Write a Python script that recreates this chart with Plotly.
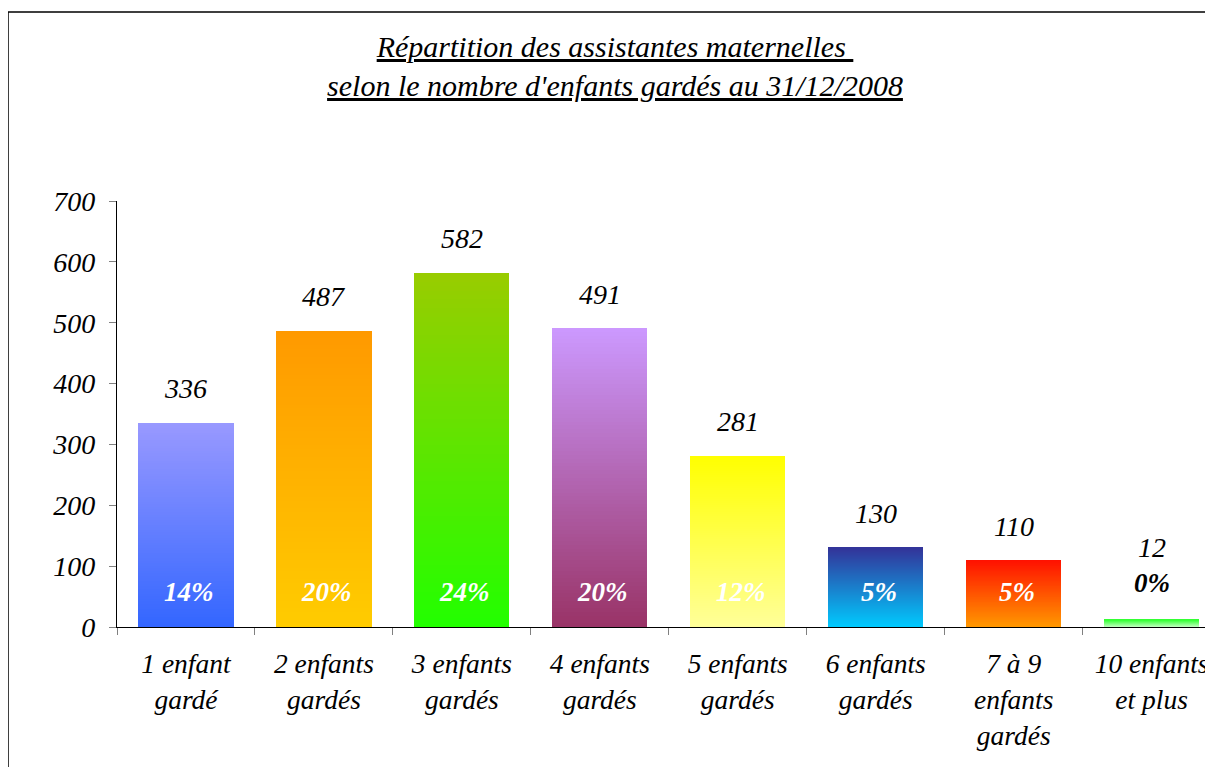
import plotly.graph_objects as go

# ---- data ----
categories = ["1 enfant<br>gardé", "2 enfants<br>gardés", "3 enfants<br>gardés",
              "4 enfants<br>gardés", "5 enfants<br>gardés", "6 enfants<br>gardés",
              "7 à 9<br>enfants<br>gardés", "10 enfants<br>et plus"]
values = [336, 487, 582, 491, 281, 130, 110, 12]
percents = [14, 20, 24, 20, 12, 5, 5, 0]
y_ticks = [0, 100, 200, 300, 400, 500, 600, 700]

# gradient colours (top, bottom) for each bar
top_colors = ["#9999FF", "#FF9900", "#99CC00", "#CC99FF", "#FFFF00", "#333399", "#FF1100", "#33FF33"]
bottom_colors = ["#3366FF", "#FFCC00", "#22FF00", "#993366", "#FFFF99", "#00CCFF", "#FF9900", "#CCFFCC"]

FONT = "Liberation Serif"
N_SEG = 80

# the page adds an 8px body margin; figure is sized to fill the rest
W, H = 1205, 759
PLOT_L, PLOT_T, PLOT_B = 109, 193, 619   # in figure pixels
PLOT_W, PLOT_H = W - PLOT_L, PLOT_B - PLOT_T


def hex2rgb(h):
    h = h.lstrip("#")
    return tuple(int(h[i:i + 2], 16) for i in (0, 2, 4))


def mix(c_bottom, c_top, t):
    a, b = hex2rgb(c_bottom), hex2rgb(c_top)
    return "rgb(%d,%d,%d)" % tuple(round(a[i] + (b[i] - a[i]) * t) for i in range(3))


fig = go.Figure()
for k in range(N_SEG):
    t = (k + 0.5) / N_SEG
    fig.add_trace(go.Bar(
        x=categories,
        y=[v / N_SEG for v in values],
        marker=dict(color=[mix(bc, tc, t) for bc, tc in zip(bottom_colors, top_colors)],
                    line=dict(width=0)),
        hoverinfo="skip" if k < N_SEG - 1 else "x+text",
        hovertext=[str(v) for v in values],
        showlegend=False,
    ))

annotations = []
for cat, v, p in zip(categories, values, percents):
    inside = v >= 60
    if inside:
        annotations.append(dict(x=cat, y=0, text="<b>%d%%</b>" % p, showarrow=False,
                                yanchor="middle", yshift=35, xshift=3,
                                font=dict(family=FONT, size=27, color="white", style="italic")))
        annotations.append(dict(x=cat, y=v, text=str(v), showarrow=False,
                                yanchor="middle", yshift=34,
                                font=dict(family=FONT, size=28, color="black", style="italic")))
    else:
        annotations.append(dict(x=cat, y=v, text="<b>%d%%</b>" % p, showarrow=False,
                                yanchor="middle", yshift=37,
                                font=dict(family=FONT, size=27, color="black", style="italic")))
        annotations.append(dict(x=cat, y=v, text=str(v), showarrow=False,
                                yanchor="middle", yshift=72,
                                font=dict(family=FONT, size=28, color="black", style="italic")))

fig.update_layout(
    width=W, height=H,
    margin=dict(l=PLOT_L, r=0, t=PLOT_T, b=H - PLOT_B, pad=0),
    barmode="stack",
    bargap=0.31,
    plot_bgcolor="white",
    paper_bgcolor="white",
    title=dict(
        text="<u>Répartition des assistantes maternelles </u><br><u>selon le nombre d'enfants gardés au 31/12/2008</u>",
        x=607 / W, xanchor="center", xref="container",
        y=1 - 49 / H, yanchor="top", yref="container",
        font=dict(family=FONT, size=30, color="black", style="italic"),
    ),
    xaxis=dict(
        type="category",
        range=[-0.5, 7.445],
        tickson="boundaries",
        ticks="outside", ticklen=7, tickcolor="#808080", tickwidth=1.3,
        showline=True, linecolor="black", linewidth=1.3,
        showgrid=False,
        ticklabelstandoff=12,
        tickfont=dict(family=FONT, size=27.5, color="black", style="italic"),
    ),
    yaxis=dict(
        range=[0, 700],
        tickvals=y_ticks,
        ticks="outside", ticklen=7, tickcolor="#808080", tickwidth=1.3,
        showline=True, linecolor="black", linewidth=1.3,
        showgrid=False, zeroline=False,
        ticklabelstandoff=8,
        tickfont=dict(family=FONT, size=28, color="black", style="italic"),
    ),
    annotations=annotations,
    shapes=[dict(type="rect", xref="paper", yref="paper",
                 x0=(0 - PLOT_L) / PLOT_W, x1=1.05, y0=-0.6, y1=(PLOT_B - 4) / PLOT_H,
                 line=dict(color="black", width=1.5), fillcolor="rgba(0,0,0,0)", layer="below")],
)

fig.write_html("out.html")
